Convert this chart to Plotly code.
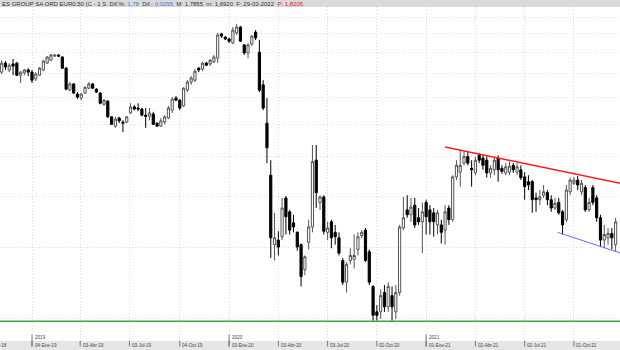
import pandas as pd
import plotly.graph_objects as go

# ---------------- data (weekly candles) ----------------
first_week = "2018-11-09"

opens = [4.03, 4.24, 4.08, 4.22, 4.24, 3.96, 4.01, 4.08,
         4.03, 3.88, 3.96, 4.08, 4.24, 4.31, 4.41, 4.44, 4.39, 4.12,
         3.64, 3.77, 3.56, 3.48, 3.58, 3.68, 3.77, 3.66, 3.58, 3.36,
         3.42, 3.13, 2.97, 3.11, 3.04, 3.04, 3.20, 3.31, 3.29, 3.27,
         3.16, 3.14, 3.18, 3.02, 2.97, 3.04, 3.11, 3.25, 3.48, 3.44,
         3.33, 3.64, 3.81, 3.85, 4.12, 4.10, 4.24, 4.22, 4.27, 4.36,
         5.00, 4.91, 4.86, 4.75, 5.03, 5.20, 4.70, 4.49, 4.72, 5.05,
         4.51, 3.75, 3.02, 2.25, 1.52, 1.56, 1.59, 1.98, 1.83, 1.72,
         1.63, 1.52, 1.32, 1.54, 1.68, 2.45, 1.93, 1.99, 1.63, 1.73,
         1.63, 1.58, 1.39, 1.23, 1.39, 1.40, 1.48, 1.60, 1.65, 1.46,
         1.20, 1.04, 1.04, 1.16, 1.07, 1.14, 1.04, 1.16, 1.67, 1.85,
         1.80, 1.90, 1.77, 1.73, 1.93, 1.85, 1.82, 1.70, 1.70, 1.65,
         1.87, 1.75, 2.23, 2.29, 2.41, 2.50, 2.34, 2.28, 2.52, 2.48,
         2.45, 2.28, 2.32, 2.48, 2.34, 2.28, 2.29, 2.38, 2.29, 2.32,
         2.23, 2.17, 2.17, 1.98, 1.96, 2.01, 2.04, 1.96, 1.87, 1.93,
         1.83, 1.75, 2.05, 2.15, 2.19, 2.05, 2.10, 1.85, 2.10, 1.98,
         1.77, 1.56, 1.58, 1.62, 1.52]

highs = [4.31, 4.29, 4.24, 4.34, 4.27, 4.05, 4.10, 4.12,
         4.08, 4.03, 4.15, 4.31, 4.41, 4.46, 4.46, 4.46, 4.41, 4.15,
         3.81, 3.79, 3.60, 3.58, 3.72, 3.81, 3.79, 3.68, 3.60, 3.46,
         3.44, 3.14, 3.13, 3.13, 3.07, 3.14, 3.38, 3.35, 3.38, 3.29,
         3.29, 3.29, 3.22, 3.04, 3.11, 3.16, 3.33, 3.50, 3.52, 3.46,
         3.70, 3.85, 3.94, 4.10, 4.15, 4.27, 4.27, 4.34, 4.44, 5.03,
         5.03, 4.94, 4.89, 5.20, 5.29, 5.23, 4.72, 4.75, 4.97, 5.11,
         4.83, 3.85, 3.48, 2.45, 1.82, 1.64, 1.98, 2.00, 1.85, 1.80,
         1.64, 1.53, 1.43, 1.75, 2.67, 2.67, 2.01, 2.01, 1.73, 1.75,
         1.70, 1.63, 1.41, 1.38, 1.49, 1.61, 1.63, 1.65, 1.67, 1.48,
         1.21, 1.08, 1.18, 1.21, 1.23, 1.20, 1.21, 1.70, 1.99, 2.01,
         1.98, 1.98, 1.87, 1.93, 1.96, 1.90, 1.87, 1.85, 1.75, 1.90,
         1.90, 2.25, 2.45, 2.59, 2.57, 2.57, 2.45, 2.50, 2.55, 2.52,
         2.50, 2.38, 2.48, 2.52, 2.38, 2.41, 2.43, 2.41, 2.41, 2.38,
         2.29, 2.25, 2.19, 2.04, 2.07, 2.13, 2.07, 2.01, 1.98, 1.98,
         1.85, 2.13, 2.22, 2.23, 2.24, 2.19, 2.13, 1.98, 2.13, 2.01,
         1.80, 1.70, 1.67, 1.67, 1.77]

lows = [3.99, 4.08, 4.03, 3.96, 3.94, 3.79, 3.96, 3.94,
        3.79, 3.83, 3.94, 4.05, 4.22, 4.29, 4.39, 4.39, 4.10, 3.64,
        3.62, 3.56, 3.46, 3.44, 3.56, 3.66, 3.66, 3.58, 3.36, 3.33,
        3.11, 2.99, 2.94, 3.02, 2.87, 3.02, 3.18, 3.25, 3.23, 3.14,
        2.94, 3.07, 2.99, 2.96, 2.96, 3.00, 3.09, 3.20, 3.42, 3.25,
        3.31, 3.60, 3.75, 3.81, 4.03, 4.05, 4.17, 4.17, 4.24, 4.24,
        4.89, 4.83, 4.75, 4.72, 4.97, 4.78, 4.44, 4.36, 4.67, 4.83,
        3.60, 3.25, 2.41, 1.41, 1.39, 1.43, 1.56, 1.61, 1.61, 1.63,
        1.47, 1.20, 1.28, 1.48, 1.63, 1.87, 1.85, 1.61, 1.56, 1.49,
        1.52, 1.43, 1.21, 1.16, 1.36, 1.33, 1.43, 1.58, 1.38, 1.21,
        0.99, 0.99, 1.00, 1.04, 1.04, 0.99, 1.00, 1.14, 1.65, 1.77,
        1.73, 1.67, 1.70, 1.45, 1.61, 1.61, 1.59, 1.61, 1.53, 1.52,
        1.70, 1.73, 2.19, 2.11, 2.38, 2.38, 2.11, 2.25, 2.41, 2.32,
        2.22, 2.22, 2.25, 2.17, 2.27, 2.25, 2.25, 2.28, 2.25, 2.19,
        1.96, 2.07, 1.82, 1.83, 1.90, 1.98, 1.90, 1.83, 1.85, 1.80,
        1.61, 1.73, 2.01, 2.13, 2.07, 2.01, 1.83, 1.83, 1.90, 1.73,
        1.50, 1.49, 1.52, 1.48, 1.46]

closes = [4.24, 4.15, 4.19, 4.17, 3.96, 4.03, 4.08, 4.03,
          3.85, 3.99, 4.12, 4.29, 4.39, 4.44, 4.44, 4.41, 4.12, 3.66,
          3.77, 3.58, 3.50, 3.56, 3.70, 3.77, 3.68, 3.60, 3.38, 3.44,
          3.13, 3.00, 3.09, 3.06, 3.02, 3.13, 3.31, 3.27, 3.27, 3.16,
          3.14, 3.20, 3.00, 2.97, 3.06, 3.13, 3.29, 3.46, 3.44, 3.29,
          3.68, 3.81, 3.90, 4.05, 4.08, 4.24, 4.19, 4.31, 4.39, 4.97,
          4.94, 4.86, 4.80, 5.11, 5.20, 4.80, 4.49, 4.70, 4.94, 4.89,
          3.64, 3.29, 2.63, 1.58, 1.58, 1.50, 1.87, 1.78, 1.65, 1.68,
          1.50, 1.27, 1.42, 1.68, 2.43, 2.04, 1.99, 1.64, 1.67, 1.58,
          1.59, 1.45, 1.23, 1.36, 1.43, 1.43, 1.59, 1.63, 1.39, 1.23,
          1.02, 1.02, 1.14, 1.07, 1.20, 1.07, 1.16, 1.68, 1.77, 1.80,
          1.88, 1.70, 1.73, 1.83, 1.78, 1.73, 1.73, 1.82, 1.63, 1.83,
          1.75, 2.23, 2.38, 2.38, 2.50, 2.41, 2.32, 2.45, 2.45, 2.38,
          2.28, 2.34, 2.45, 2.32, 2.30, 2.36, 2.37, 2.32, 2.36, 2.22,
          2.11, 2.13, 1.96, 1.96, 1.99, 2.05, 1.96, 1.87, 1.92, 1.82,
          1.70, 2.07, 2.19, 2.19, 2.13, 2.15, 1.85, 1.93, 1.93, 1.77,
          1.56, 1.61, 1.62, 1.58, 1.73]

quarter_dates = ["2019-01-04", "2019-04-03", "2019-07-03", "2019-10-04",
                 "2020-01-03", "2020-04-03", "2020-07-03", "2020-10-02",
                 "2021-01-01", "2021-04-02", "2021-07-02", "2021-10-01"]
quarter_labels = ["04-Ene-19", "03-Abr-19", "03-Jul-19", "04-Oct-19",
                  "03-Ene-20", "03-Abr-20", "03-Jul-20", "02-Oct-20",
                  "01-Ene-21", "02-Abr-21", "02-Jul-21", "01-Oct-21"]
cut_label = "04-Oct-18"
year_dates = ["2019-01-04", "2020-01-03", "2021-01-01"]
year_labels = ["2019", "2020", "2021"]
grid_prices = [1.0, 1.5, 2.0, 2.5, 3.0, 3.5, 4.0, 4.5, 5.0, 5.5]

resist_x = ["2021-02-05", "2021-12-26"]
resist_y = [2.64, 2.15]
support_x = ["2021-09-01", "2021-12-26"]
support_y = [1.63, 1.45]
floor_price = 0.986

header_text = ("ES GROUP SA ORD EUR0.50 (C - 1 S  Dif.%: <span style='color:#3a7bd5'>1,78</span>"
               "  Dif.: <span style='color:#3a7bd5'>0,0295</span>  M: 1,7855  m: 1,6920"
               "  F: 29-03-2022  <span style='color:#e02020'>P: 1,8205</span>")

# ---------------- layout constants ----------------
W, H = 620, 350
TOP, BOT = 7, 341           # plot area pixel rows
X0, X1 = "2018-11-05 21:36", "2021-12-25 02:00"
Y_RANGE = [-0.05446, 0.76507]   # log10 range


def pp(ypix):
    return (BOT - ypix) / (BOT - TOP)


dates = pd.date_range(first_week, periods=len(opens), freq="W-FRI")

fig = go.Figure()
fig.add_trace(go.Candlestick(
    x=dates, open=opens, high=highs, low=lows, close=closes,
    increasing=dict(line=dict(color="#555555", width=1), fillcolor="#ffffff"),
    decreasing=dict(line=dict(color="#000000", width=1), fillcolor="#000000"),
    whiskerwidth=0, hoverinfo="skip",
))
fig.add_trace(go.Scatter(x=[X0, X1], y=[floor_price, floor_price], mode="lines",
                         line=dict(color="#3aa83a", width=1.6), hoverinfo="skip"))
fig.add_trace(go.Scatter(x=resist_x, y=resist_y, mode="lines",
                         line=dict(color="#ff1a1a", width=1.4), hoverinfo="skip"))
fig.add_trace(go.Scatter(x=support_x, y=support_y, mode="lines",
                         line=dict(color="#6b6bf5", width=1), hoverinfo="skip"))

shapes = [
    # header band
    dict(type="rect", xref="paper", yref="paper", x0=0, x1=1, y0=pp(TOP), y1=pp(0),
         fillcolor="#dadada", line=dict(width=0), layer="below"),
    # bottom band
    dict(type="rect", xref="paper", yref="paper", x0=0, x1=1, y0=pp(H), y1=pp(BOT),
         fillcolor="#e6e6e6", line=dict(width=0), layer="below"),
]
for d in quarter_dates:
    shapes.append(dict(type="line", xref="x", yref="paper", x0=d, x1=d,
                       y0=pp(341), y1=pp(346.5), line=dict(color="#777777", width=1)))
for d in year_dates:
    shapes.append(dict(type="line", xref="x", yref="paper", x0=d, x1=d,
                       y0=pp(334.5), y1=pp(346.5), line=dict(color="#777777", width=1)))

annotations = [dict(text=header_text, xref="paper", yref="paper", x=0, y=pp(3.6),
                    xanchor="left", yanchor="middle", showarrow=False,
                    font=dict(family="Liberation Sans", size=6, color="#333333"))]
for d, t in zip(quarter_dates, quarter_labels):
    annotations.append(dict(text=t, xref="x", yref="paper", x=d, y=pp(345.8),
                            xanchor="left", yanchor="middle", xshift=0.5, showarrow=False,
                            font=dict(family="Liberation Sans", size=4.6, color="#444444")))
annotations.append(dict(text=cut_label, xref="paper", yref="paper", x=-16.5 / W, y=pp(345.8),
                        xanchor="left", yanchor="middle", showarrow=False,
                        font=dict(family="Liberation Sans", size=4.6, color="#444444")))
for d, t in zip(year_dates, year_labels):
    annotations.append(dict(text=t, xref="x", yref="paper", x=d, y=pp(337.8),
                            xanchor="left", yanchor="middle", xshift=0.5, showarrow=False,
                            font=dict(family="Liberation Sans", size=4.6, color="#444444")))

fig.update_layout(
    width=W, height=H, showlegend=False,
    margin=dict(l=0, r=0, t=TOP, b=H - BOT, pad=0),
    paper_bgcolor="#ffffff", plot_bgcolor="#ffffff",
    boxgap=0.18, hovermode=False,
    shapes=shapes, annotations=annotations,
    xaxis=dict(type="date", range=[X0, X1], tickvals=quarter_dates, showticklabels=False,
               ticks="", showgrid=True, gridcolor="#dedede", griddash="1px,2px", gridwidth=1,
               zeroline=False, showline=False, rangeslider=dict(visible=False), fixedrange=True),
    yaxis=dict(type="log", range=Y_RANGE, tickvals=grid_prices, showticklabels=False,
               ticks="", showgrid=True, gridcolor="#dedede", griddash="1px,2px", gridwidth=1,
               zeroline=False, showline=False, fixedrange=True),
)

fig.write_html("out.html")
